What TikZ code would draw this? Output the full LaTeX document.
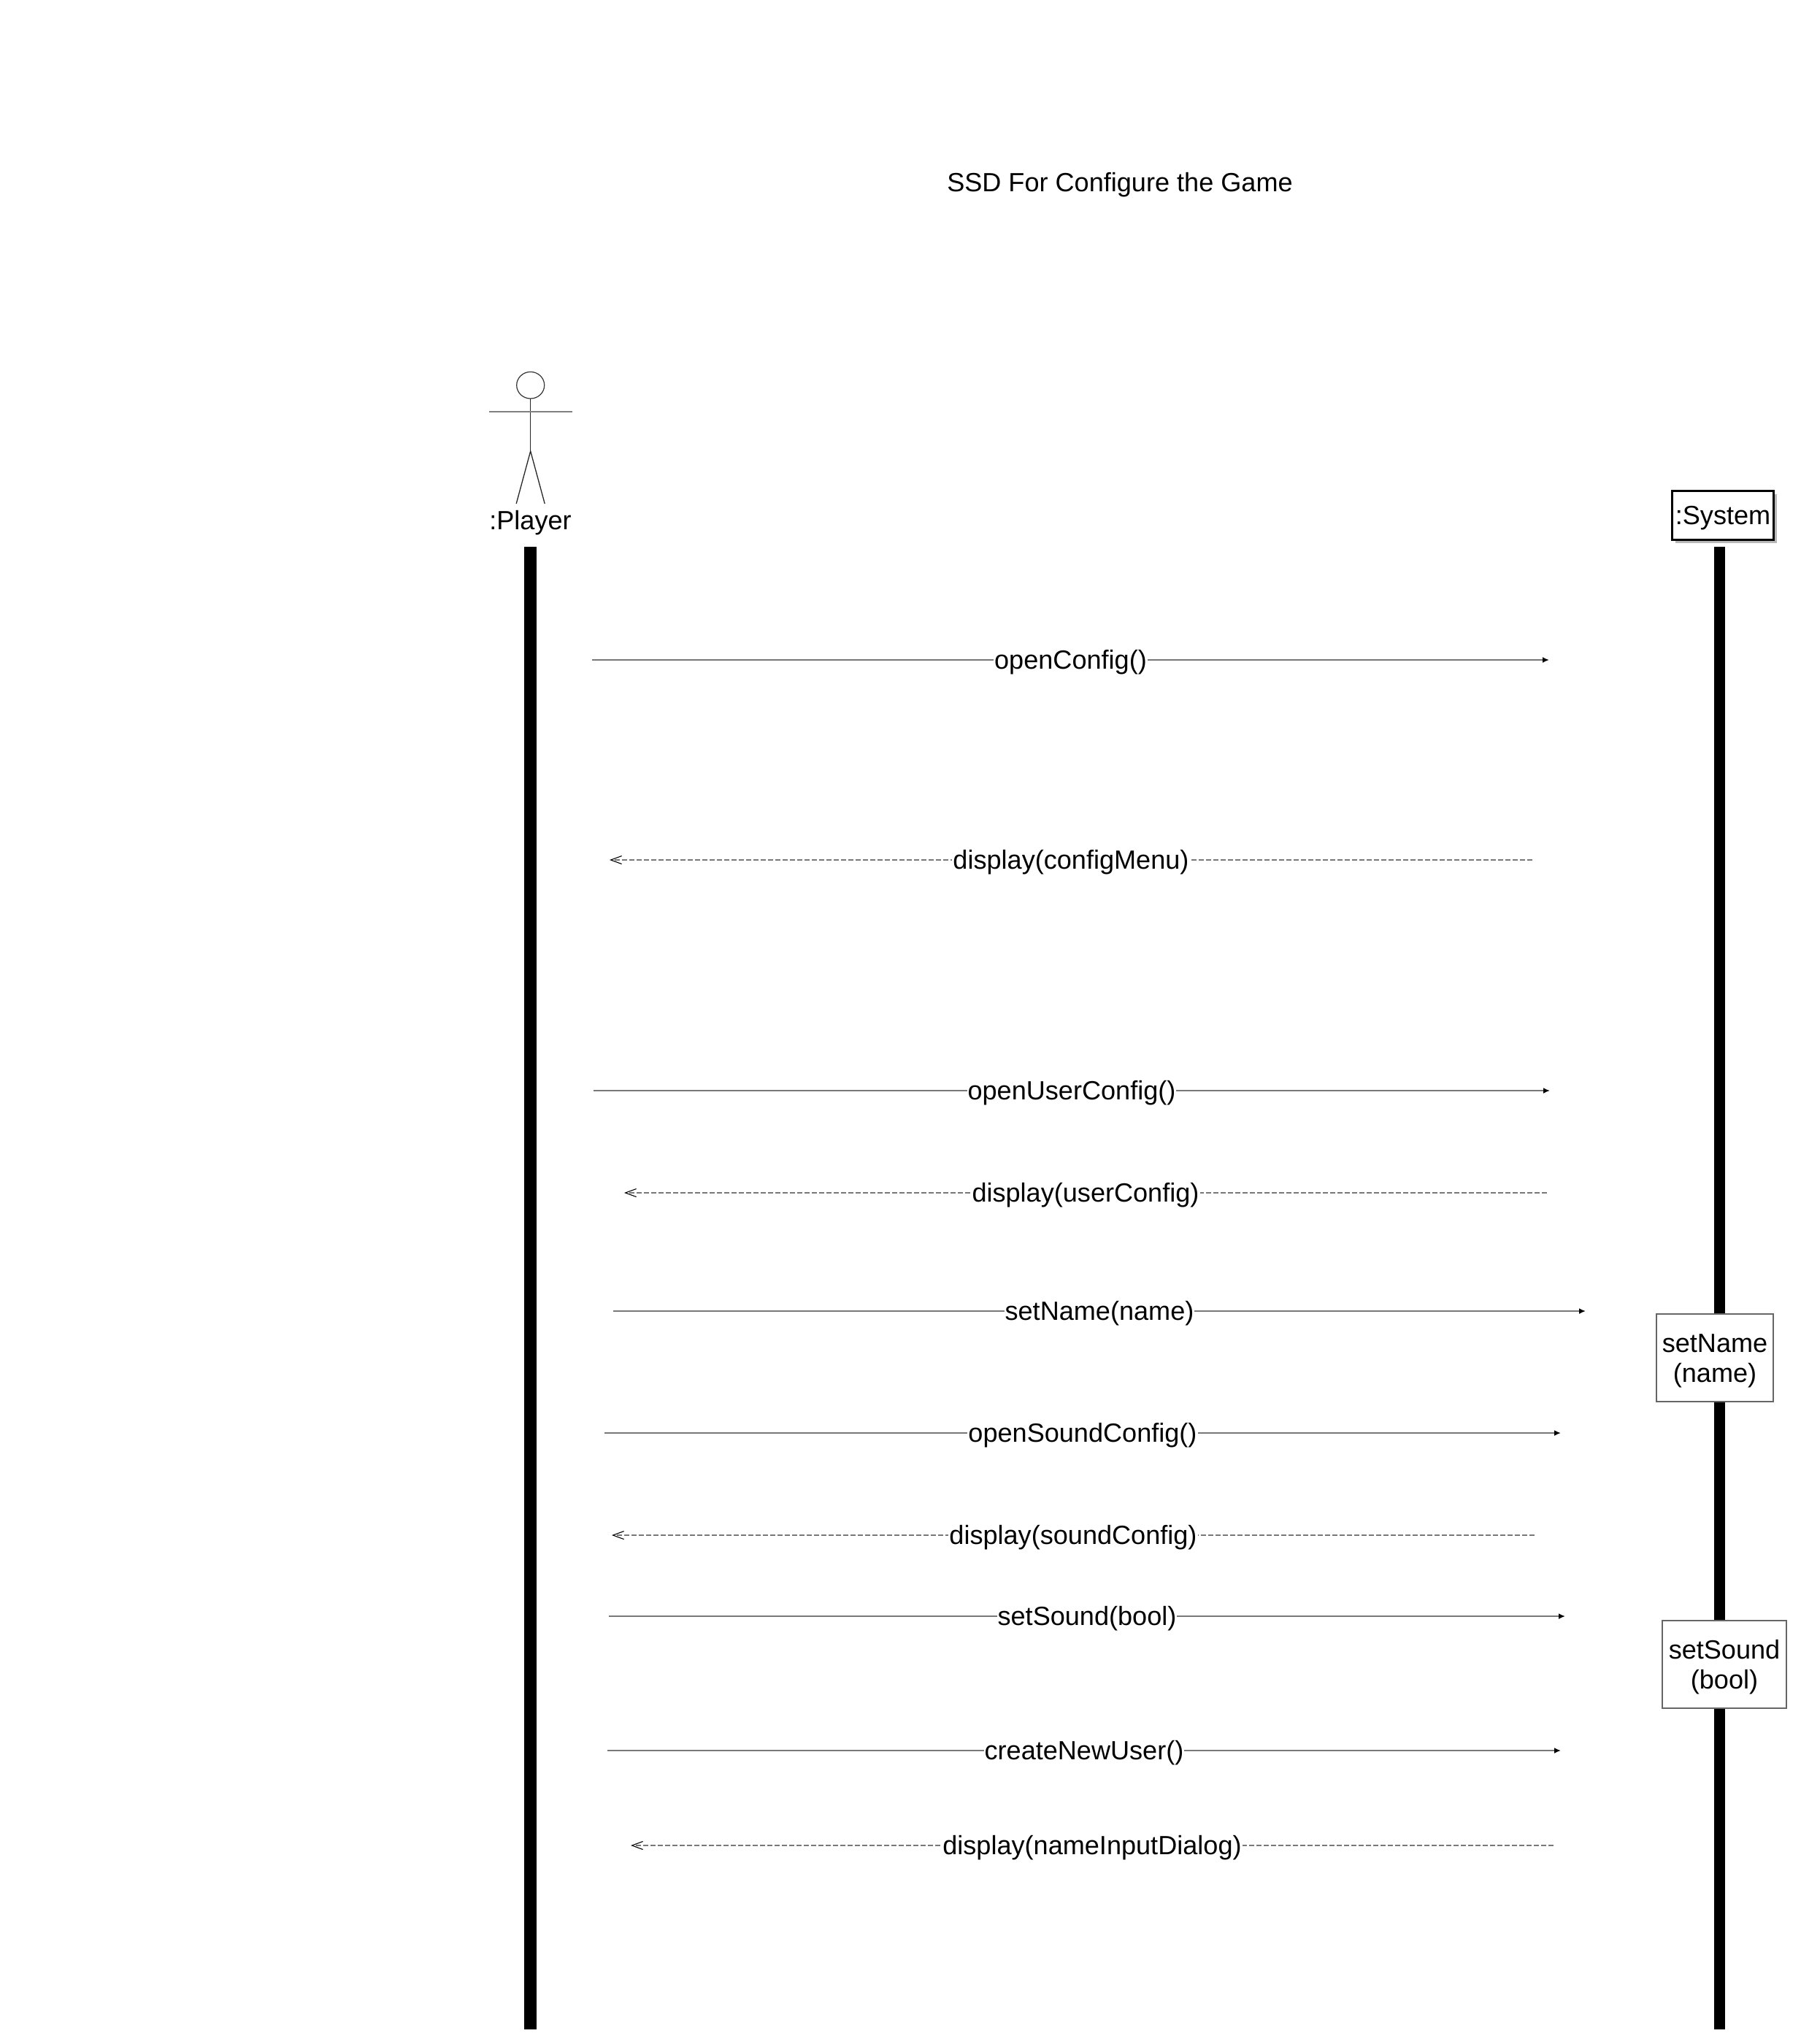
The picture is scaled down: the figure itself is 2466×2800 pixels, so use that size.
\documentclass[tikz,border=0pt]{standalone}
\usepackage{fontspec}
\setmainfont{Liberation Sans}
\usepackage{tikz}
\usetikzlibrary{arrows.meta,shadows}
\definecolor{msgline}{gray}{0.47}
\newcommand{\dropline}{\rule{0pt}{33pt}}
\tikzset{
	txt/.style={font=\fontsize{36.1}{41}\selectfont, inner sep=0pt, text=black},
	msglabel/.style={txt, fill=white, inner xsep=1pt, inner ysep=1pt, midway, yshift=-3.5pt},
	callmsg/.style={line width=2pt, msgline, -{Latex[black, length=9pt, width=8pt]}},
	retmsg/.style={line width=2pt, msgline, dash pattern=on 7.5pt off 2.5pt, -{Straight Barb[black, line width=1.1pt, length=15pt, width=11pt]}},
	lifeline/.style={line width=#1, black},
	notebox/.style={txt, draw=black!60, line width=1.6pt, fill=white, align=center, minimum height=120pt},
}
\newcommand{\stickman}[2] % {x}{y of the head centre}
{
	\draw [line width=1.2pt, black!80] (#1,#2) ellipse (19pt and 18.3pt);
	\draw [line width=1.3pt, black!85] (#1,#2+18.3) -- (#1,#2+90.3);
	\draw [line width=2pt, black!50] (#1-57,#2+36.3) -- (#1+57,#2+36.3);
	\draw [line width=1.3pt, black!85] (#1-19.5,#2+162.3) -- (#1,#2+90.3) -- (#1+19.5,#2+162.3);
}
\begin{document}
\begin{tikzpicture}[x=1pt, y=-1pt]
	\useasboundingbox (0,0) rectangle (2466,2800);

	\node[txt] (title) at (1534,253.5) {SSD For Configure the Game};

	\stickman{726.7}{527.7}
	\node[txt] (player) at (726.5,716.5) {:Player};
	\node[txt, draw, line width=3pt, fill=white, minimum width=139pt, minimum height=67pt,
		drop shadow={shadow xshift=4.5pt, shadow yshift=-4.5pt, fill=black!28, opacity=1}] (system) at (2360,706) {\dropline:System};

	\coordinate (playerTop) at (726.7,749);
	\coordinate (playerEnd) at (726.7,2780);
	\coordinate (systemTop) at (2355.3,749);
	\coordinate (systemEnd) at (2355.3,2780);
	\draw[lifeline=17.3pt] (playerTop) -- (playerEnd);
	\draw[lifeline=14.7pt] (systemTop) -- (systemEnd);

	\foreach \i/\y/\xa/\xb/\msg in {1/904/811/2122/openConfig(), 3/1494/813/2123/openUserConfig(), 5/1796/840/2172/setName(name), 6/1963/828/2138/openSoundConfig(), 8/2214/834/2144/setSound(bool), 9/2398/832/2138/createNewUser()} {
		\coordinate (from\i) at (\xa,\y);
		\coordinate (to\i) at (\xb,\y);
		\draw[callmsg] (from\i) -- node[msglabel] (msg\i) {\msg} (to\i);
	}
	\foreach \i/\y/\xa/\xb/\msg in {2/1178/2099/835/display(configMenu), 4/1634/2119/855/display(userConfig), 7/2103/2102/838/display(soundConfig), 10/2528/2128/864/display(nameInputDialog)} {
		\coordinate (from\i) at (\xa,\y);
		\coordinate (to\i) at (\xb,\y);
		\draw[retmsg] (from\i) -- node[msglabel] (msg\i) {\msg} (to\i);
	}

	\node[notebox, minimum width=160pt] (setNameBox) at (2349,1860) {\dropline setName\\(name)};
	\node[notebox, minimum width=170pt] (setSoundBox) at (2362,2280) {\dropline setSound\\(bool)};
\end{tikzpicture}
\end{document}
